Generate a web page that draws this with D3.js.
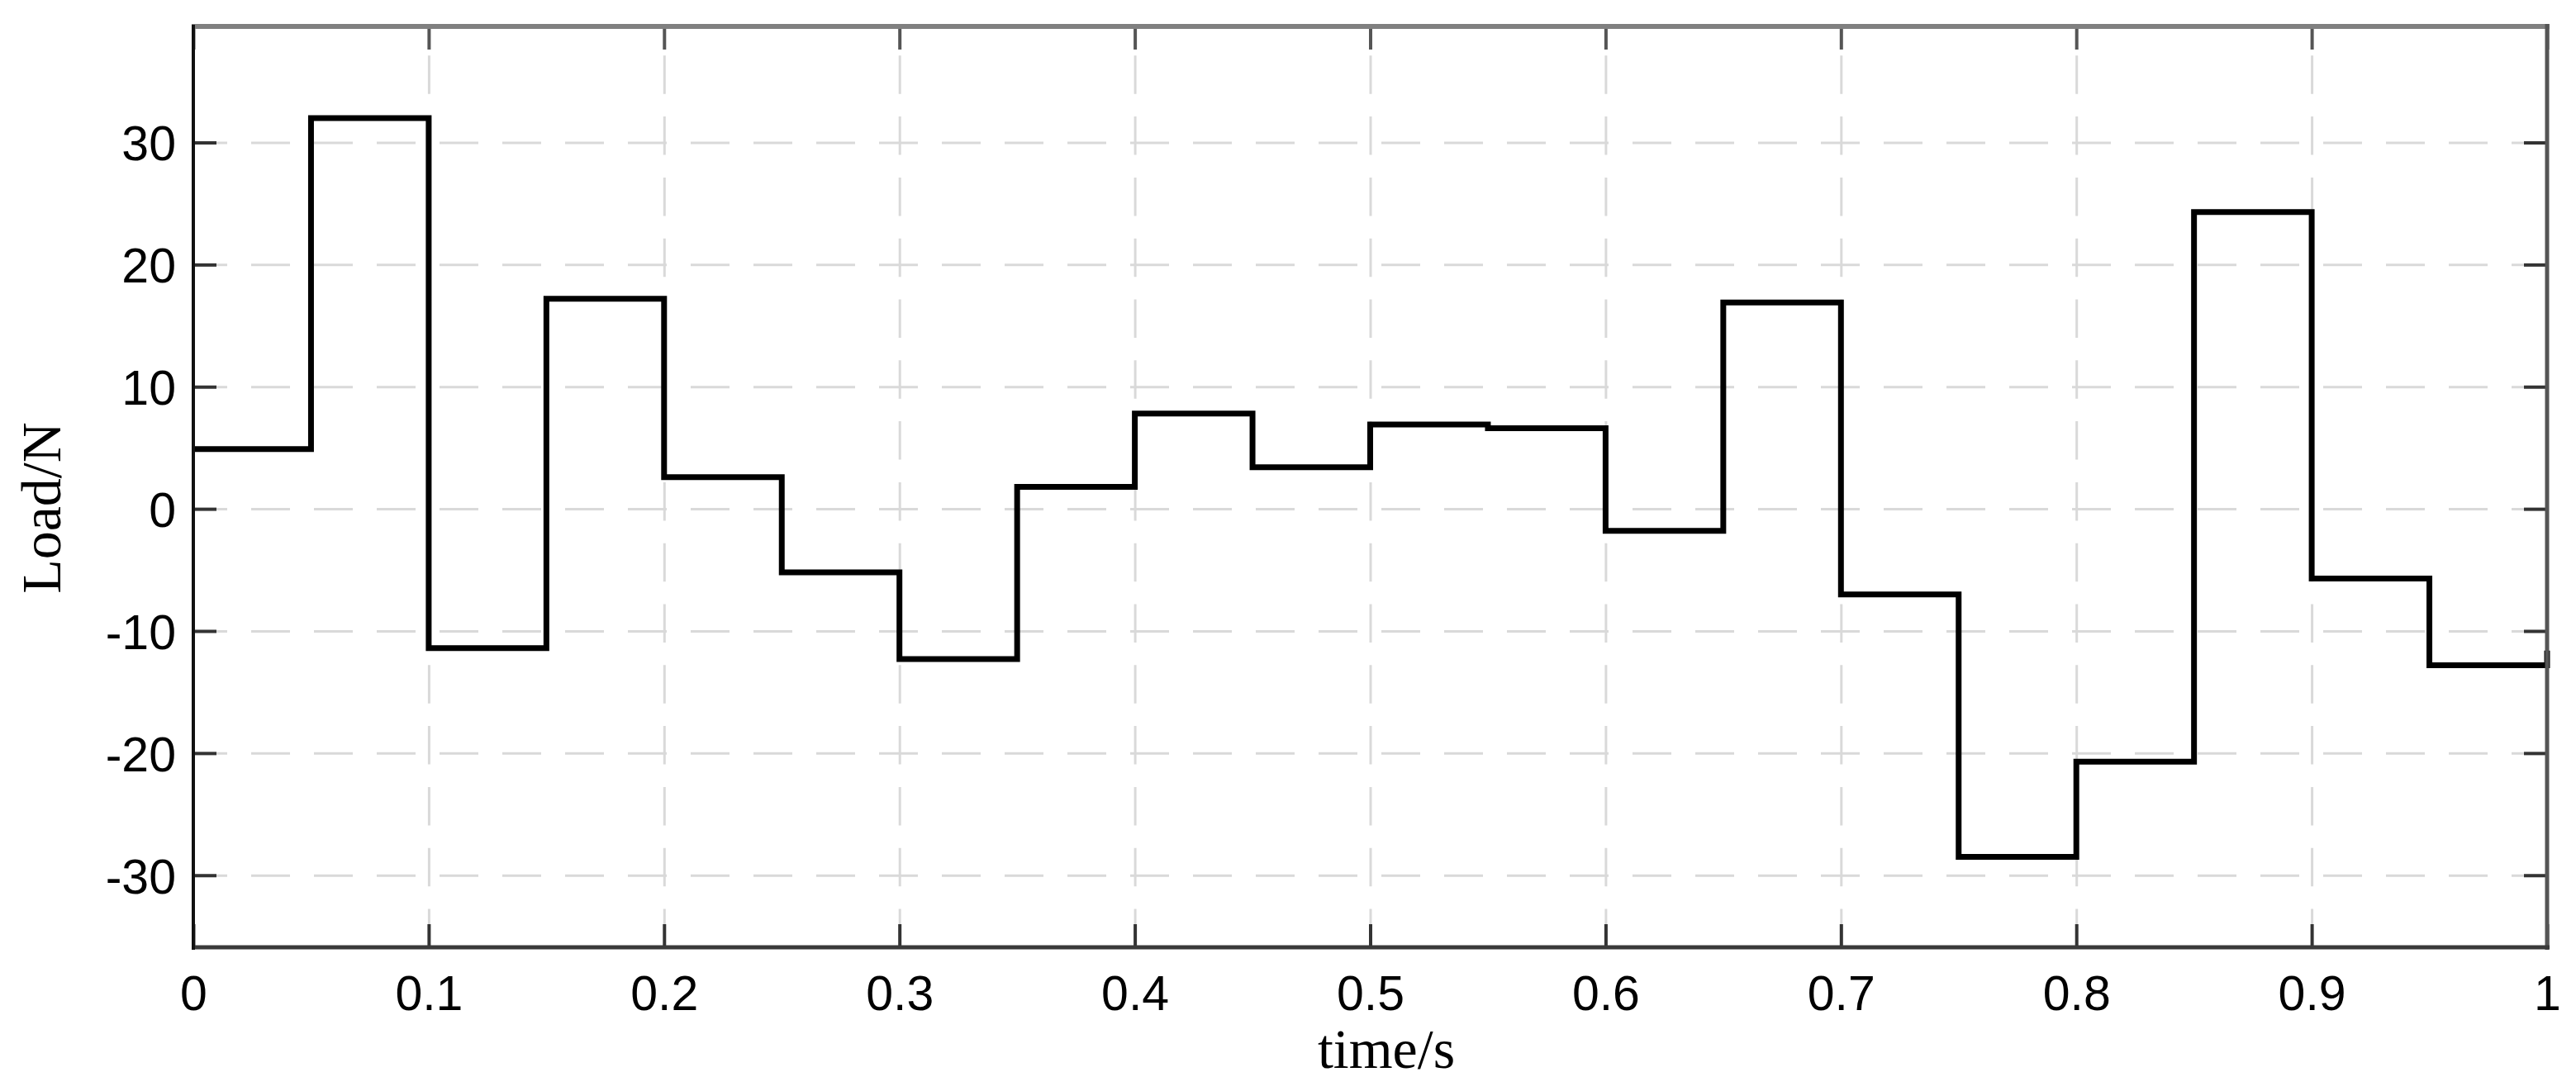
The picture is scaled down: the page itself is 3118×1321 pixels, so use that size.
<!DOCTYPE html>
<html>
<head>
<meta charset="utf-8">
<script src="https://cdn.jsdelivr.net/npm/d3@7"></script>
<style>
  html, body { margin: 0; padding: 0; background: #ffffff; }
  svg { display: block; }
</style>
</head>
<body>
<svg id="chart" width="3118" height="1321"></svg>
<script>
// ---- data ----
const times = [0, 0.05, 0.10, 0.15, 0.20, 0.25, 0.30, 0.35, 0.40, 0.45,
               0.50, 0.55, 0.60, 0.65, 0.70, 0.75, 0.80, 0.85, 0.90, 0.95, 1.0];
const loads = [4.9, 32.0, -11.4, 17.2, 2.6, -5.2, -12.3, 1.8, 7.8, 3.4,
               6.9, 6.6, -1.8, 16.9, -7.0, -28.5, -20.7, 24.3, -5.7, -12.8, -11.6];
const xTicks = [0, 0.1, 0.2, 0.3, 0.4, 0.5, 0.6, 0.7, 0.8, 0.9, 1];
const xTickLabels = ["0", "0.1", "0.2", "0.3", "0.4", "0.5", "0.6", "0.7", "0.8", "0.9", "1"];
const yTicks = [-30, -20, -10, 0, 10, 20, 30];
const yTickLabels = ["-30", "-20", "-10", "0", "10", "20", "30"];
const xDomain = [0, 1];
const yDomain = [-35.9, 39.5];
const xLabel = "time/s";
const yLabel = "Load/N";

// ---- layout ----
const L = 234, R = 3083, T = 32, B = 1147;
const W = R - L, H = B - T;
const svg = d3.select("#chart");

const x = d3.scaleLinear().domain(xDomain).range([L, R]);
const y = d3.scaleLinear().domain(yDomain).range([B, T]);

svg.append("rect").attr("x", 0).attr("y", 0).attr("width", 3118).attr("height", 1321).attr("fill", "#fff");

// ---- grid ----
const gridX = svg.append("g").attr("transform", `translate(0,${B})`)
  .call(d3.axisBottom(x).tickValues(xTicks.filter(t => t > 0 && t < 1)).tickSize(-H).tickFormat(""));
gridX.select(".domain").remove();
gridX.selectAll("line").attr("stroke", "#d9d9d9").attr("stroke-width", 3)
  .attr("stroke-dasharray", "46.5,27.3").attr("stroke-dashoffset", 0);

const gridY = svg.append("g").attr("transform", `translate(${L},0)`)
  .call(d3.axisLeft(y).tickValues(yTicks).tickSize(-W).tickFormat(""));
gridY.select(".domain").remove();
gridY.selectAll("line").attr("stroke", "#d9d9d9").attr("stroke-width", 3)
  .attr("stroke-dasharray", "47,29").attr("stroke-dashoffset", 6);

// ---- data line ----
const pts = times.map((t, i) => [t, loads[i]]);
const line = d3.line().x(d => x(d[0])).y(d => y(d[1])).curve(d3.curveStepAfter);
svg.append("path").datum(pts).attr("d", line)
  .attr("fill", "none").attr("stroke", "#000").attr("stroke-width", 7)
  .attr("stroke-linejoin", "miter").attr("stroke-linecap", "butt");

// ---- axes ----
const fontTick = "'Liberation Sans', Arial, sans-serif";
const fontLabel = "'Liberation Serif', 'Times New Roman', serif";

const axB = svg.append("g").attr("transform", `translate(0,${B})`)
  .call(d3.axisBottom(x).tickValues(xTicks).tickSize(-28).tickFormat((d, i) => xTickLabels[i]));
axB.select(".domain").remove();
axB.selectAll("line").attr("stroke", "#333").attr("stroke-width", 4);
axB.selectAll("text").attr("y", 76).attr("dy", 0)
  .attr("font-family", fontTick).attr("font-size", 59).attr("fill", "#000");

const axT = svg.append("g").attr("transform", `translate(0,${T})`)
  .call(d3.axisTop(x).tickValues(xTicks).tickSize(-28).tickFormat(""));
axT.select(".domain").remove();
axT.selectAll("line").attr("stroke", "#555").attr("stroke-width", 4);

const axL = svg.append("g").attr("transform", `translate(${L},0)`)
  .call(d3.axisLeft(y).tickValues(yTicks).tickSize(-28).tickFormat((d, i) => yTickLabels[i]));
axL.select(".domain").remove();
axL.selectAll("line").attr("stroke", "#333").attr("stroke-width", 4);
axL.selectAll("text").attr("x", -21).attr("dy", "0.36em")
  .attr("font-family", fontTick).attr("font-size", 59).attr("fill", "#000");

const axR = svg.append("g").attr("transform", `translate(${R},0)`)
  .call(d3.axisRight(y).tickValues(yTicks).tickSize(-28).tickFormat(""));
axR.select(".domain").remove();
axR.selectAll("line").attr("stroke", "#333").attr("stroke-width", 4);

// box
svg.append("line").attr("x1", L - 2).attr("x2", R + 3).attr("y1", T).attr("y2", T)
  .attr("stroke", "#808080").attr("stroke-width", 6);
svg.append("line").attr("x1", R).attr("x2", R).attr("y1", T - 3).attr("y2", B + 3)
  .attr("stroke", "#555").attr("stroke-width", 5);
svg.append("line").attr("x1", L - 2).attr("x2", R + 3).attr("y1", B).attr("y2", B)
  .attr("stroke", "#3a3a3a").attr("stroke-width", 5);
svg.append("line").attr("x1", L).attr("x2", L).attr("y1", T - 2).attr("y2", B + 3)
  .attr("stroke", "#111").attr("stroke-width", 4);

// ---- axis titles ----
svg.append("text").attr("x", 1678).attr("y", 1293).attr("text-anchor", "middle")
  .attr("font-family", fontLabel).attr("font-size", 68).attr("fill", "#000").text(xLabel);
svg.append("text").attr("transform", `translate(73,615) rotate(-90)`).attr("text-anchor", "middle")
  .attr("font-family", fontLabel).attr("font-size", 68).attr("fill", "#000").text(yLabel);
</script>
</body>
</html>
